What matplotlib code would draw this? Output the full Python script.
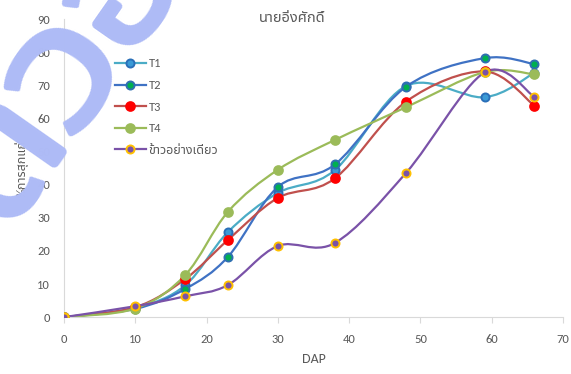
import matplotlib
matplotlib.use("Agg")
import numpy as np
import matplotlib.pyplot as plt
from matplotlib import font_manager
from matplotlib.path import Path
from matplotlib.patches import PathPatch
from matplotlib.lines import Line2D

################# DATA ####################

dap = [0, 10, 17, 23, 30, 38, 48, 59, 66]
t1 = [0, 2.8, 9.6, 25.7, 37.5, 44.4, 69.8, 66.4, 73.8]
t2 = [0, 2.5, 8.5, 18.2, 39.3, 46.1, 69.6, 78.2, 76.4]
t3 = [0, 3.0, 11.5, 23.3, 36.0, 41.9, 65.1, 74.2, 63.8]
t4 = [0, 2.6, 12.7, 31.8, 44.5, 53.5, 63.4, 74.0, 73.3]
check = [0, 3.3, 6.3, 9.7, 21.5, 22.4, 43.6, 73.9, 66.5]

series_names = ["T1", "T2", "T3", "T4", "ข้าวอย่างเดียว"]
title = "นายอิ่งศักดิ์"
ylabel = "%การสุกแก่"
xlabel = "DAP"
watermark = "ตัวอย่าง"

###########################################

# pick a font that has Thai glyphs
names = set(f.name for f in font_manager.fontManager.ttflist)
thai = None
for cand in ["Noto Sans Thai", "Noto Sans Thai UI", "Sarabun", "Prompt", "Kanit", "Anuphan", "Athiti"]:
    if cand in names:
        thai = cand
        break
wm_font = thai
for cand in ["Mitr", "Kanit", "Prompt"]:
    if cand in names:
        wm_font = cand
        break
latin = "Open Sans"
for cand in ["Carlito", "Open Sans"]:
    if cand in names:
        latin = cand
        break
fams = [latin] + ([thai] if thai else []) + ["DejaVu Sans"]
plt.rcParams["font.family"] = fams

grey = "#595959"


def smooth_path(xs, ys):
    # Excel-style smoothed line: Catmull-Rom drawn as cubic Bezier segments
    p = np.column_stack([xs, ys]).astype(float)
    n = len(p)
    verts = [p[0]]
    codes = [Path.MOVETO]
    for i in range(n - 1):
        p0 = p[i - 1] if i > 0 else p[i]
        p3 = p[i + 2] if i + 2 < n else p[i + 1]
        c1 = p[i] + (p[i + 1] - p0) / 6.0
        c2 = p[i + 1] - (p3 - p[i]) / 6.0
        verts += [c1, c2, p[i + 1]]
        codes += [Path.CURVE4] * 3
    return Path(verts, codes)


fig = plt.figure(figsize=(5.71, 3.74), dpi=100)
ax = fig.add_axes([0.112, 0.152, 0.874, 0.797])

styles = [
    (t1, "#4bacc6", "#3a9ad6", "#2a6fb8", 5.8),
    (t2, "#3f72c4", "#00b050", "#2f6fb0", 5.8),
    (t3, "#c0504d", "#ff0000", "#ff0000", 6.3),
    (t4, "#9bbb59", "#9bbb59", "#9bbb59", 6.3),
    (check, "#7a52a8", "#7a52a8", "#ffc000", 5.8),
]

handles = []
for (vals, lc, mc, ec, ms), name in zip(styles, series_names):
    ax.add_patch(PathPatch(smooth_path(dap, vals), facecolor="none",
                           edgecolor=lc, lw=1.6, zorder=2))
    ax.plot(dap, vals, ls="none", marker="o", ms=ms, mfc=mc, mec=ec,
            mew=1.4, zorder=3)
    handles.append(Line2D([], [], color=lc, lw=1.6, marker="o", ms=ms,
                          mfc=mc, mec=ec, mew=1.4, label=name))

ax.set_xlim(0, 70)
ax.set_ylim(0, 90)
ax.set_xticks(range(0, 71, 10))
ax.set_yticks(range(0, 91, 10))
for s in ["top", "right"]:
    ax.spines[s].set_visible(False)
ax.spines["left"].set_color("#d9d9d9")
ax.spines["bottom"].set_color("#d9d9d9")
ax.tick_params(axis="x", colors=grey, length=4, color="#d9d9d9", labelsize=9, pad=8)
ax.tick_params(axis="y", colors=grey, length=0, labelsize=9, pad=10)
ax.set_xlabel(xlabel, color=grey, fontsize=10, labelpad=6)
ax.set_ylabel(ylabel, color=grey, fontsize=9, labelpad=6)
fig.text(0.511, 0.952, title, color=grey, fontsize=10.5, ha="center", va="center")

leg = ax.legend(handles=handles, loc="upper left", bbox_to_anchor=(0.092, 0.885),
                frameon=False, fontsize=9, handlelength=2.5, labelspacing=0.85,
                handletextpad=0.2, borderaxespad=0)
for t in leg.get_texts():
    t.set_color(grey)

# watermark
fig.text(0.0105, 0.382, watermark, fontsize=130, color="#aebbf6", rotation=55,
         rotation_mode="anchor", family=[wm_font, "DejaVu Sans"], fontweight="normal",
         ha="left", va="baseline", zorder=10)

fig.savefig("out.png", dpi=100)
